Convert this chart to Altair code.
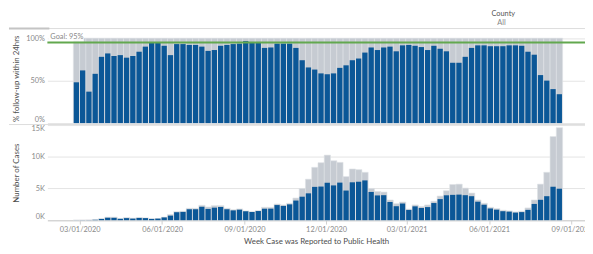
import altair as alt
import pandas as pd

# ---------------- data ----------------
week_start = pd.date_range("2020-02-23", periods=78, freq="7D")

pct_followup_24h = [0.48, 0.62, 0.37, 0.58, 0.78, 0.82, 0.79, 0.80, 0.77, 0.79,
                    0.84, 0.90, 0.95, 0.95, 0.91, 0.80, 0.93, 0.93, 0.92, 0.92,
                    0.90, 0.85, 0.86, 0.91, 0.92, 0.93, 0.935, 0.965, 0.955, 0.955,
                    0.885, 0.89, 0.935, 0.935, 0.935, 0.885, 0.74, 0.655, 0.63, 0.585,
                    0.575, 0.585, 0.65, 0.68, 0.74, 0.76, 0.83, 0.89, 0.86, 0.89,
                    0.90, 0.845, 0.915, 0.92, 0.91, 0.895, 0.86, 0.91, 0.875, 0.845,
                    0.71, 0.71, 0.78, 0.885, 0.915, 0.915, 0.905, 0.905, 0.905, 0.915,
                    0.915, 0.91, 0.84, 0.805, 0.565, 0.50, 0.40, 0.34]

cases_total = [15, 25, 40, 100, 250, 470, 470, 260, 420, 310,
               420, 360, 210, 260, 470, 890, 1350, 1400, 1870, 1870,
               2340, 2080, 2290, 2290, 1870, 1650, 1770, 1460, 1350, 1510,
               2030, 2030, 2550, 2400, 2660, 3490, 5000, 6460, 8330, 9060,
               10260, 9370, 9110, 6870, 8070, 7970, 7550, 5000, 4530, 4430,
               3180, 2600, 2860, 1750, 2400, 2140, 2400, 2970, 3800, 4640,
               5620, 5680, 5050, 4270, 3180, 2660, 2030, 1820, 1560, 1460,
               1300, 1400, 1930, 3180, 5680, 7550, 13180, 14580]

cases_followed = [8, 15, 15, 60, 190, 380, 370, 210, 320, 240,
                  350, 320, 200, 245, 430, 710, 1250, 1300, 1720, 1720,
                  2110, 1770, 1970, 2080, 1720, 1540, 1650, 1400, 1290, 1440,
                  1800, 1810, 2380, 2240, 2490, 3090, 3700, 4230, 5250, 5300,
                  5900, 5480, 5920, 4670, 5970, 6060, 6270, 4450, 3900, 3940,
                  2860, 2200, 2620, 1610, 2180, 1920, 2060, 2700, 3320, 3920,
                  3990, 4030, 3940, 3780, 2910, 2430, 1840, 1650, 1410, 1340,
                  1190, 1270, 1620, 2560, 3210, 3780, 5270, 4960]

tick_dates = ["2020-03-01", "2020-06-01", "2020-09-01", "2020-12-01",
              "2021-03-01", "2021-06-01", "2021-09-01"]
x_domain_dates = ["2020-01-25", "2021-09-16"]
goal_value = [0.95]
goal_label = ["Goal: 95%"]
pct_ticks = [0, 0.5, 1]
case_ticks = [0, 5000, 10000, 15000]

# ---------------- helpers ----------------
DAY = 86400000


def to_ms(ts):
    return int((pd.Timestamp(ts) - pd.Timestamp("1970-01-01")) / pd.Timedelta(milliseconds=1))


wk = [to_ms(d) for d in week_start]
df = pd.DataFrame({
    "g0": wk,
    "g1": [w + 7 * DAY for w in wk],
    "b0": [w + int(0.4 * DAY) for w in wk],
    "b1": [w + int(6.3 * DAY) for w in wk],
    "pct": pct_followup_24h,
    "full": [1.0] * len(wk),
    "total": cases_total,
    "followed": cases_followed,
})
goal_df = pd.DataFrame({"goal": goal_value, "label": goal_label})
one = pd.DataFrame({"a": [0]})

FONT = "Lato"
BLUE = "#0b5797"
GRAY = "#c6cbd2"
GREEN = "#62a84f"
LABEL_C = "#8a8a8a"
TITLE_C = "#4d4d4d"
W = 546
H1 = 91
H2 = 96.6

xscale = alt.Scale(type="utc", domain=[to_ms(x_domain_dates[0]), to_ms(x_domain_dates[1])])
x_hidden = alt.Axis(labels=False, ticks=False, domain=False, grid=False, title=None)


def yaxis(title, values, **kw):
    return alt.Axis(title=title, values=values, grid=True, gridColor="#e4e4e4",
                    domain=False, ticks=False, labelPadding=3, labelFlush=True,
                    labelOverlap=False, labelSeparation=0,
                    labelFontSize=7.5, labelColor=LABEL_C, labelFont=FONT,
                    titleFont=FONT, titleFontSize=8, titleFontWeight="normal",
                    titleColor=TITLE_C, titlePadding=3, minExtent=24, maxExtent=24, **kw)


# ---------------- top panel ----------------
yscale_top = alt.Scale(domain=[0, 1.055], nice=False, zero=True)
top_gray = alt.Chart(df).mark_bar(color=GRAY, stroke="#dfe2e6", strokeWidth=0.6).encode(
    x=alt.X("g0:T", scale=xscale, axis=x_hidden),
    x2="g1:T",
    y=alt.Y("full:Q", scale=yscale_top,
            axis=yaxis("% follow-up within 24hrs", pct_ticks, format=".0%")),
    y2=alt.datum(0),
)
top_blue = alt.Chart(df).mark_bar(color=BLUE).encode(
    x=alt.X("b0:T", axis=x_hidden), x2="b1:T",
    y=alt.Y("pct:Q", axis=yaxis("% follow-up within 24hrs", pct_ticks, format=".0%")),
    y2=alt.datum(0),
)
goal_box = alt.Chart(one).mark_rect(color="white", opacity=0.9).encode(
    x=alt.value(1), x2=alt.value(37), y=alt.value(0.5), y2=alt.value(8.3)
)
goal_rule = alt.Chart(goal_df).mark_rule(color=GREEN, strokeWidth=2).encode(y="goal:Q")
goal_text = alt.Chart(goal_df).mark_text(
    align="left", baseline="alphabetic", dx=3, dy=-3.5, fontSize=7.5,
    color="#8a8a8a", font=FONT).encode(x=alt.value(0), y="goal:Q", text="label:N")
sep_top = alt.Chart(one).mark_rule(color="#dcdcdc", strokeWidth=1).encode(
    x=alt.value(-39), x2=alt.value(W), y=alt.value(-5))
sep_tab = alt.Chart(one).mark_rule(color="#c4c4c4", strokeWidth=2).encode(
    x=alt.value(-39), x2=alt.value(2), y=alt.value(-5))
county = alt.Chart(one).mark_text(align="left", baseline="top", fontSize=7.5,
                                  color="#555555", font=FONT).encode(
    x=alt.value(451), y=alt.value(-23.7), text=alt.value("County"))
county_all = alt.Chart(one).mark_text(align="left", baseline="middle", fontSize=7.5,
                                      color="#888888", font=FONT).encode(
    x=alt.value(457), y=alt.value(-11), text=alt.value("All"))

top = alt.layer(top_gray, top_blue, goal_box, goal_rule, goal_text,
                sep_top, sep_tab, county, county_all).properties(width=W, height=H1)

# ---------------- bottom panel ----------------
x_bottom = alt.Axis(values=[to_ms(d) for d in tick_dates],
                    labelExpr="utcFormat(datum.value, '%m/%d/%Y')",
                    title="Week Case was Reported to Public Health", grid=False,
                    domain=True, domainColor="#cfcfcf", ticks=True, tickColor="#cfcfcf",
                    tickSize=4, labelPadding=2, labelFontSize=7.5, labelColor=LABEL_C,
                    labelFont=FONT, labelFlush=False, labelOverlap=False,
                    titleFont=FONT, titleFontSize=8,
                    titleFontWeight="normal", titleColor=TITLE_C, titlePadding=4)
y_bottom = yaxis("Number of Cases", case_ticks,
                 labelExpr="round(datum.value / 1000) + 'K'")
yscale_bot = alt.Scale(domain=[0, 15000], nice=False, zero=True)
bot_gray = alt.Chart(df).mark_bar(color=GRAY, stroke="#dfe2e6", strokeWidth=0.6).encode(
    x=alt.X("g0:T", scale=xscale, axis=x_bottom),
    x2="g1:T",
    y=alt.Y("total:Q", scale=yscale_bot, axis=y_bottom),
    y2=alt.datum(0),
)
bot_blue = alt.Chart(df).mark_bar(color=BLUE).encode(
    x=alt.X("b0:T", axis=x_bottom), x2="b1:T",
    y=alt.Y("followed:Q", axis=y_bottom), y2=alt.datum(0),
)
sep_mid = alt.Chart(one).mark_rule(color="#dcdcdc", strokeWidth=1).encode(
    x=alt.value(-39), x2=alt.value(W), y=alt.value(-0.5))

bottom = alt.layer(bot_gray, bot_blue, sep_mid).properties(width=W, height=H2)

chart = alt.vconcat(top, bottom, spacing=2, bounds="flush").properties(
    padding={"left": 0, "top": 0, "right": -8, "bottom": 0}
).configure(font=FONT).configure_axis(labelOverlap=False).configure_view(stroke=None)

chart.save("out.html", embed_options={"renderer": "svg", "actions": False})
